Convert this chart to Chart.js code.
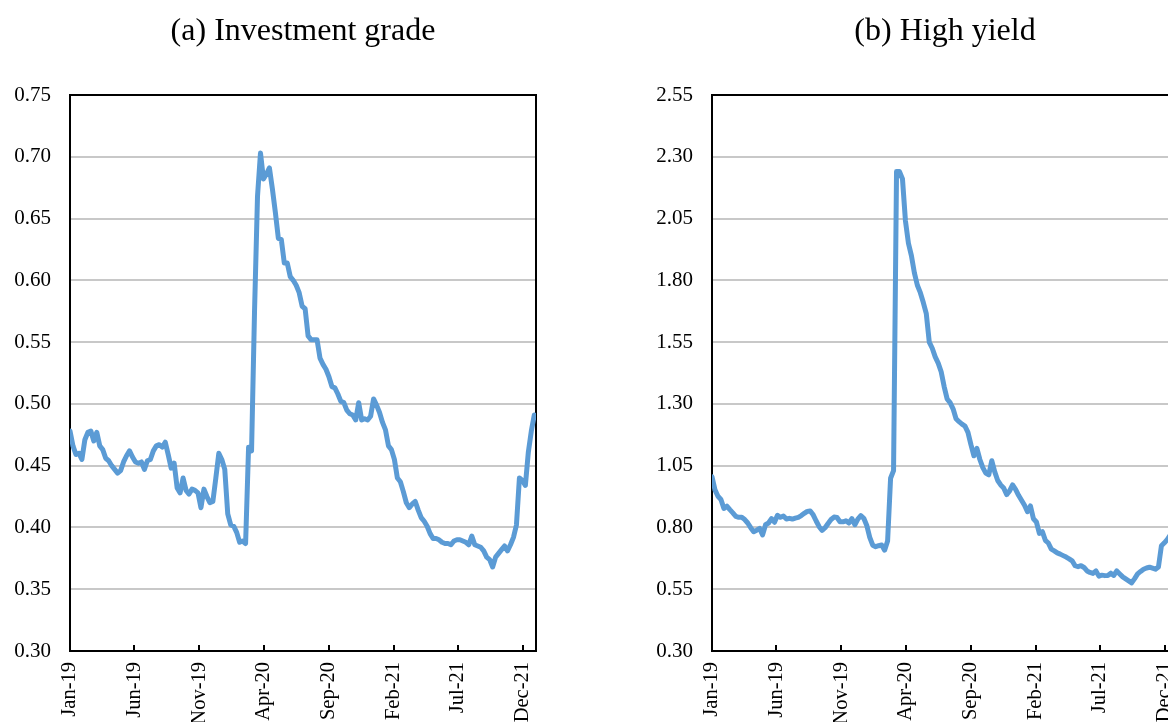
<!DOCTYPE html>
<html>
<head>
<meta charset="utf-8">
<script src="https://cdn.jsdelivr.net/npm/chart.js@4.4.1/dist/chart.umd.min.js"></script>
<style>
  html, body { margin: 0; padding: 0; background: #fff; overflow: hidden; width: 1168px; height: 722px; }
  canvas { position: absolute; top: 0; }
  #ig { left: 0; }
  #hy { left: 642px; }
</style>
</head>
<body>
<canvas id="ig" width="600" height="760"></canvas>
<canvas id="hy" width="600" height="760"></canvas>
<script>
// Weekly observations, first one on 2019-01-01, last one in late December 2021.
const seriesStart = '2019-01-01';
const seriesEnd = '2022-01-01';
const tickMonths = ['2019-01-01', '2019-06-01', '2019-11-01', '2020-04-01', '2020-09-01', '2021-02-01', '2021-07-01', '2021-12-01'];
const tickLabels = ['Jan-19', 'Jun-19', 'Nov-19', 'Apr-20', 'Sep-20', 'Feb-21', 'Jul-21', 'Dec-21'];

const panelTitles = ['(a) Investment grade', '(b) High yield'];

// Investment grade
const investmentGrade = [
  0.478, 0.466, 0.459, 0.460, 0.455, 0.471, 0.477, 0.478, 0.470, 0.477,
  0.466, 0.463, 0.456, 0.454, 0.450, 0.447, 0.444, 0.446, 0.453, 0.458,
  0.462, 0.457, 0.453, 0.452, 0.453, 0.447, 0.454, 0.455, 0.462, 0.466,
  0.467, 0.465, 0.469, 0.459, 0.448, 0.452, 0.432, 0.428, 0.440, 0.430,
  0.427, 0.431, 0.430, 0.428, 0.416, 0.431, 0.425, 0.420, 0.421, 0.440,
  0.460, 0.455, 0.447, 0.411, 0.402, 0.401, 0.396, 0.388, 0.389, 0.387,
  0.465, 0.462, 0.575, 0.668, 0.703, 0.682, 0.686, 0.691, 0.674, 0.655,
  0.634, 0.633, 0.614, 0.614, 0.603, 0.600, 0.596, 0.590, 0.579, 0.577,
  0.555, 0.552, 0.552, 0.552, 0.537, 0.532, 0.528, 0.522, 0.514, 0.513,
  0.508, 0.502, 0.501, 0.495, 0.492, 0.491, 0.487, 0.501, 0.487, 0.488,
  0.487, 0.490, 0.504, 0.499, 0.493, 0.485, 0.479, 0.466, 0.463, 0.455,
  0.440, 0.437, 0.429, 0.420, 0.416, 0.419, 0.421, 0.414, 0.408, 0.405,
  0.401, 0.395, 0.391, 0.391, 0.390, 0.388, 0.387, 0.387, 0.386, 0.389,
  0.390, 0.390, 0.389, 0.388, 0.386, 0.393, 0.386, 0.385, 0.384, 0.381,
  0.376, 0.374, 0.368, 0.376, 0.379, 0.382, 0.385, 0.381, 0.386, 0.392,
  0.402, 0.440, 0.438, 0.434, 0.461, 0.478, 0.491
];

// High yield
const highYield = [
  1.005, 0.952, 0.926, 0.913, 0.877, 0.886, 0.872, 0.859, 0.845, 0.841,
  0.841, 0.832, 0.818, 0.799, 0.783, 0.789, 0.796, 0.770, 0.811, 0.818,
  0.836, 0.821, 0.849, 0.841, 0.846, 0.834, 0.837, 0.834, 0.838, 0.841,
  0.848, 0.857, 0.865, 0.867, 0.851, 0.826, 0.803, 0.788, 0.799, 0.816,
  0.832, 0.842, 0.840, 0.823, 0.823, 0.827, 0.818, 0.836, 0.811, 0.834,
  0.848, 0.837, 0.808, 0.760, 0.728, 0.722, 0.726, 0.729, 0.708, 0.745,
  0.999, 1.030, 2.240, 2.240, 2.210, 2.040, 1.950, 1.900, 1.830, 1.780,
  1.750, 1.710, 1.665, 1.550, 1.525, 1.490, 1.465, 1.430, 1.370, 1.320,
  1.305, 1.280, 1.240, 1.228, 1.218, 1.210, 1.185, 1.135, 1.090, 1.120,
  1.075, 1.042, 1.020, 1.013, 1.070, 1.025, 0.990, 0.972, 0.960, 0.933,
  0.948, 0.972, 0.954, 0.930, 0.910, 0.890, 0.864, 0.887, 0.835, 0.822,
  0.776, 0.783, 0.748, 0.737, 0.712, 0.705, 0.697, 0.692, 0.686, 0.680,
  0.673, 0.665, 0.645, 0.641, 0.645, 0.638, 0.624, 0.618, 0.614, 0.624,
  0.603, 0.607, 0.605, 0.606, 0.615, 0.606, 0.624, 0.612, 0.600, 0.592,
  0.584, 0.576, 0.593, 0.612, 0.622, 0.631, 0.636, 0.639, 0.635, 0.631,
  0.640, 0.726, 0.738, 0.752, 0.770, 0.800, 0.830
];

// y-axis ranges: [min, max, step]
const igRange = [0.30, 0.75, 0.05];
const hyRange = [0.30, 2.55, 0.25];

const DAY = 86400000;
const dayOffset = s => (Date.parse(s) - Date.parse(seriesStart)) / DAY;
const tickDays = tickMonths.map(dayOffset);
const lastDay = dayOffset(seriesEnd);

const serif = 'Liberation Serif, "Times New Roman", serif';

// Black frame round the plot area and short inward tick marks on the date axis.
const framePlugin = {
  id: 'frame',
  beforeDatasetsDraw(chart) {
    const { ctx, chartArea: a, scales: { x } } = chart;
    ctx.save();
    ctx.strokeStyle = '#000';
    ctx.lineWidth = 2;
    ctx.strokeRect(a.left, a.top, a.right - a.left, a.bottom - a.top);
    ctx.beginPath();
    x.ticks.forEach(t => {
      const px = Math.round(x.getPixelForValue(t.value));
      ctx.moveTo(px, a.bottom);
      ctx.lineTo(px, a.bottom - 6);
    });
    ctx.stroke();
    ctx.restore();
  }
};

function buildPanel(canvasId, title, values, range) {
  const [yMin, yMax, yStep] = range;
  return new Chart(document.getElementById(canvasId), {
    type: 'line',
    data: {
      datasets: [{
        data: values.map((v, i) => ({ x: i * 7, y: v })),
        borderColor: '#5b9bd5',
        borderWidth: 5,
        borderJoinStyle: 'round',
        borderCapStyle: 'round',
        pointRadius: 0,
        tension: 0,
        fill: false
      }]
    },
    options: {
      responsive: false,
      animation: false,
      devicePixelRatio: 1,
      layout: { padding: { left: 0, right: 64, top: 0, bottom: 0 } },
      plugins: {
        legend: { display: false },
        tooltip: { enabled: false },
        title: {
          display: true,
          text: title,
          fullSize: false,
          color: '#000',
          font: { family: serif, size: 32, weight: 'normal' },
          padding: { top: 12, bottom: 44.6 }
        }
      },
      scales: {
        x: {
          type: 'linear',
          min: 0,
          max: lastDay,
          afterBuildTicks: s => { s.ticks = tickDays.map(v => ({ value: v })); },
          afterFit: s => { s.height = 109; },
          grid: { display: false, drawTicks: false },
          border: { display: true, color: '#000', width: 2 },
          ticks: {
            autoSkip: false,
            minRotation: 90,
            maxRotation: 90,
            padding: 11,
            color: '#000',
            font: { family: serif, size: 20.5 },
            callback: (v, i) => tickLabels[i]
          }
        },
        y: {
          min: yMin,
          max: yMax,
          afterFit: s => { s.width = 70; },
          grid: { color: '#c8c8c8', lineWidth: 2, drawTicks: false },
          border: { display: true, color: '#000', width: 2 },
          ticks: {
            stepSize: yStep,
            padding: 19,
            color: '#000',
            font: { family: serif, size: 21 },
            callback: v => Number(v).toFixed(2)
          }
        }
      }
    },
    plugins: [framePlugin]
  });
}

buildPanel('ig', panelTitles[0], investmentGrade, igRange);
buildPanel('hy', panelTitles[1], highYield, hyRange);
</script>
</body>
</html>
